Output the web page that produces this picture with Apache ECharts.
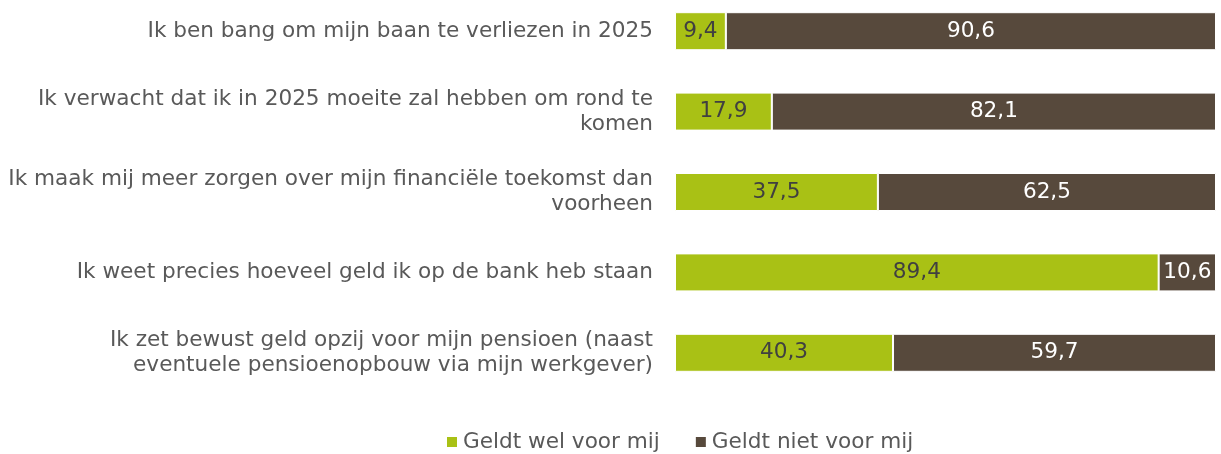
<!DOCTYPE html>
<html>
<head>
<meta charset="utf-8">
<script src="https://cdn.jsdelivr.net/npm/echarts@6/dist/echarts.min.js"></script>
<style>
  html, body { margin: 0; padding: 0; background: #fff; }
  #chart { width: 1221px; height: 454px; }
</style>
</head>
<body>
<div id="chart"></div>
<script>
// stellingen (van boven naar onder)
var categories = [
    'Ik ben bang om mijn baan te verliezen in 2025',
    'Ik verwacht dat ik in 2025 moeite zal hebben om rond te\nkomen',
    'Ik maak mij meer zorgen over mijn financiële toekomst dan\nvoorheen',
    'Ik weet precies hoeveel geld ik op de bank heb staan',
    'Ik zet bewust geld opzij voor mijn pensioen (naast\neventuele pensioenopbouw via mijn werkgever)'
];
var welValues = [9.4, 17.9, 37.5, 89.4, 40.3];
var nietValues = [90.6, 82.1, 62.5, 10.6, 59.7];
var seriesNames = ['Geldt wel voor mij', 'Geldt niet voor mij'];

var fontFamily = 'DejaVu Sans';
var fontSize = 21.6;

function fmt(p) {
    return String(p.value).replace('.', ',');
}

var chart = echarts.init(document.getElementById('chart'));

var option = {
    animation: false,
    textStyle: { fontFamily: fontFamily },
    grid: {
        left: 675,
        right: 5,
        top: -9,
        height: 402,
        containLabel: false,
        outerBoundsMode: 'none'
    },
    legend: {
        data: seriesNames,
        top: 426,
        left: 440,
        itemWidth: 12,
        itemHeight: 12,
        itemGap: 34,
        icon: 'rect',
        textStyle: { fontSize: fontSize, color: '#595959', fontFamily: fontFamily }
    },
    xAxis: {
        type: 'value',
        min: 0,
        max: 100,
        show: false
    },
    yAxis: {
        type: 'category',
        inverse: true,
        data: categories,
        axisLine: { show: false },
        axisTick: { show: false },
        axisLabel: {
            margin: 22,
            fontSize: fontSize,
            lineHeight: 25,
            color: '#595959',
            fontFamily: fontFamily,
            align: 'right'
        }
    },
    series: [
        {
            name: seriesNames[0],
            type: 'bar',
            stack: 'totaal',
            barWidth: 38,
            data: welValues,
            itemStyle: { color: '#A9C115', borderColor: '#fff', borderWidth: 1 },
            label: {
                show: true,
                position: 'inside',
                formatter: fmt,
                fontSize: fontSize,
                color: '#404040',
                fontFamily: fontFamily
            }
        },
        {
            name: seriesNames[1],
            type: 'bar',
            stack: 'totaal',
            barWidth: 38,
            data: nietValues,
            itemStyle: { color: '#57493C', borderColor: '#fff', borderWidth: 1 },
            label: {
                show: true,
                position: 'inside',
                formatter: fmt,
                fontSize: fontSize,
                color: '#fff',
                fontFamily: fontFamily
            }
        }
    ]
};

chart.setOption(option);
</script>
</body>
</html>
